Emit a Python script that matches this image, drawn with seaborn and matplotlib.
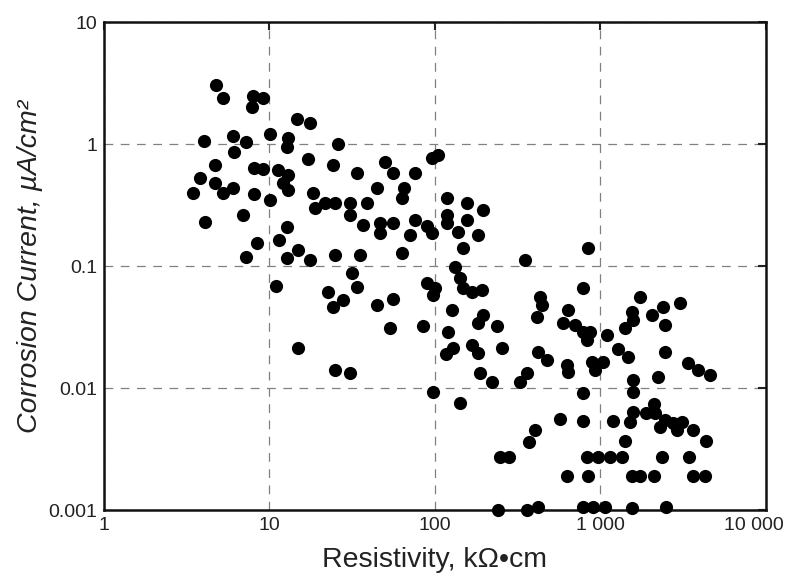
import matplotlib
matplotlib.use('Agg')
import matplotlib.pyplot as plt
import matplotlib.transforms as mtransforms
import seaborn as sns
import pandas as pd

# values (kOhm*cm, uA/cm2)
resistivity = [
    4.75, 5.2, 7.9, 9.1, 7.8, 4.0, 6.0, 7.2, 6.1, 10.1, 12.9, 12.8, 14.7,
    4.7, 8.1, 9.1, 11.3, 12.9, 12.1, 3.8, 3.45, 4.7, 5.2, 6.0, 8.1, 10.1, 12.9,
    4.1, 6.9, 12.8, 11.4, 8.4, 7.2, 12.8, 14.9, 10.9,
    17.6, 25.9, 17.1, 24.2, 33.8, 49.9, 55.7, 75.7, 95.9, 104,
    18.3, 18.8, 21.6, 24.9, 30.6, 30.6, 38.8, 44.6, 65, 63.2, 118,
    36.7, 46.5, 55.7, 75.7, 89.5, 70.6, 118, 118, 46.5, 95.9, 138, 156, 156,
    195, 182, 148,
    17.6, 24.9, 35.2, 63.2, 31.5, 33.8, 22.6, 27.8, 24.2, 44.6, 55.7,
    89.5, 100, 97.2, 132, 142, 167, 148, 192, 127,
    53.5, 85, 120, 128, 116, 167, 182, 195, 182, 237, 254,
    14.9, 24.9, 30.6, 97.2, 142, 187, 221, 360, 326,
    840, 350, 784, 431, 443, 413, 636, 593, 702, 784, 864, 828, 1095, 1276,
    419, 475, 628, 636, 889, 926, 1036, 784, 569, 784, 1190, 402, 370,
    247, 280, 828, 966, 1141, 1349, 628, 840,
    240, 360, 419, 784, 901, 1065,
    1733, 1549, 1572, 2048, 2387, 3020, 2454, 1406, 1466, 2454, 3380, 3884,
    4585, 2224, 1572, 1572, 2105, 1572, 1883, 2134, 1507, 2288, 2454, 2742,
    2898, 3105, 3624, 4339, 1406, 2353, 3428, 1549, 1733, 2105, 3624, 4278,
    1549, 2489,
]
current = [
    3.05, 2.4, 2.5, 2.4, 2.0, 1.06, 1.16, 1.04, 0.86, 1.21, 1.12, 0.95, 1.6,
    0.67, 0.64, 0.62, 0.61, 0.56, 0.48, 0.53, 0.40, 0.48, 0.40, 0.44, 0.39, 0.35, 0.42,
    0.23, 0.26, 0.21, 0.163, 0.154, 0.119, 0.116, 0.135, 0.069,
    1.49, 1.0, 0.75, 0.67, 0.58, 0.71, 0.58, 0.58, 0.77, 0.81,
    0.40, 0.30, 0.33, 0.33, 0.33, 0.26, 0.33, 0.44, 0.44, 0.36, 0.36,
    0.217, 0.225, 0.225, 0.24, 0.213, 0.18, 0.26, 0.225, 0.186, 0.186, 0.19, 0.24, 0.33,
    0.29, 0.18, 0.14,
    0.112, 0.123, 0.123, 0.128, 0.088, 0.067, 0.061, 0.053, 0.046, 0.048, 0.054,
    0.073, 0.066, 0.058, 0.098, 0.080, 0.061, 0.066, 0.064, 0.044,
    0.031, 0.032, 0.029, 0.0213, 0.019, 0.0225, 0.0194, 0.040, 0.034, 0.032, 0.0213,
    0.0213, 0.014, 0.0133, 0.0093, 0.0076, 0.0133, 0.0112, 0.0133, 0.0112,
    0.14, 0.112, 0.066, 0.056, 0.048, 0.038, 0.044, 0.034, 0.033, 0.029, 0.029, 0.025, 0.027, 0.021,
    0.0197, 0.017, 0.0154, 0.0135, 0.0163, 0.014, 0.0163, 0.0091, 0.0056, 0.0054, 0.0054, 0.0045, 0.0036,
    0.0027, 0.0027, 0.0027, 0.0027, 0.0027, 0.0027, 0.0019, 0.0019,
    0.001, 0.001, 0.00107, 0.00106, 0.00107, 0.00107,
    0.056, 0.042, 0.036, 0.040, 0.046, 0.050, 0.033, 0.031, 0.018, 0.0197, 0.016, 0.014,
    0.0128, 0.0123, 0.0116, 0.0093, 0.0074, 0.0064, 0.0062, 0.0062, 0.0053, 0.0048, 0.0055, 0.0052,
    0.0045, 0.0053, 0.0045, 0.0037, 0.0037, 0.0027, 0.0027, 0.0019, 0.0019, 0.0019, 0.0019, 0.0019,
    0.00104, 0.00106,
]

x_ticks = [1, 10, 100, 1000, 10000]
x_ticklabels = ['1', '10', '100', '1 000', '10 000']
y_ticks = [0.001, 0.01, 0.1, 1, 10]
y_ticklabels = ['0.001', '0.01', '0.1', '1', '10']

df = pd.DataFrame({'resistivity': resistivity, 'current': current})

sns.set_style('white')
plt.rcParams['font.family'] = ['Liberation Sans', 'DejaVu Sans']

fig = plt.figure(figsize=(7.88, 5.81), dpi=100)
ax = fig.add_axes([0.132, 0.122, 0.840, 0.840])

sns.scatterplot(data=df, x='resistivity', y='current', ax=ax, color='black',
                s=90, linewidth=0, clip_on=False, zorder=3)

ax.set_xscale('log')
ax.set_yscale('log')
ax.set_xlim(1, 10000)
ax.set_ylim(0.001, 10)
ax.set_xticks(x_ticks)
ax.set_xticklabels(x_ticklabels)
ax.set_yticks(y_ticks)
ax.set_yticklabels(y_ticklabels)
ax.minorticks_off()

ax.grid(True, which='major', linestyle=(0, (7, 6)), color='#808080', linewidth=0.9)
ax.tick_params(direction='in', length=6, width=1.5, labelsize=14, pad=5,
               top=True, right=True, colors='#222222')
for sp in ax.spines.values():
    sp.set_linewidth(1.8)
    sp.set_color('#111111')

# the last x label sits a little to the left of its tick, as in the original
last = ax.get_xticklabels()[-1]
last.set_transform(last.get_transform() +
                   mtransforms.ScaledTranslation(-0.12, 0, fig.dpi_scale_trans))

ax.set_xlabel('Resistivity, k\u03a9\u2022cm', fontsize=20.5, labelpad=9, color='#222222')
ax.set_ylabel('Corrosion Current, \u00b5A/cm\u00b2', fontsize=20.5, labelpad=4,
              style='italic', color='#222222')

plt.savefig('out.png', dpi=100)
